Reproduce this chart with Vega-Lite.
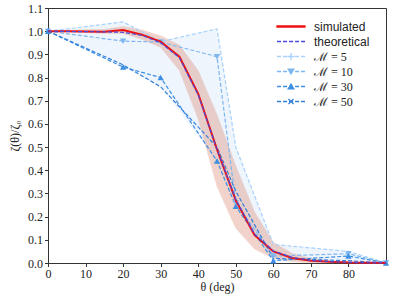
{
  "$schema": "https://vega.github.io/schema/vega-lite/v6.json",
  "width": 338,
  "height": 255,
  "autosize": {"type": "none"},
  "padding": {"left": 48, "top": 8, "right": 13, "bottom": 36},
  "background": "white",
  "resolve": {"scale": {"color": "independent", "shape": "independent"}},
  "config": {
    "view": {"stroke": "#333333", "strokeWidth": 1},
    "axis": {
      "labelFont": "Liberation Serif",
      "labelFontSize": 12,
      "labelColor": "#222222",
      "labelOverlap": false,
      "labelFlush": false,
      "titleFont": "Liberation Serif",
      "titleFontSize": 12,
      "titleFontWeight": "normal",
      "titleColor": "#222222",
      "domainColor": "#333333",
      "tickColor": "#333333",
      "tickSize": 3.5,
      "grid": false
    },
    "legend": {
      "title": null,
      "orient": "none",
      "legendX": 228,
      "legendY": 11,
      "symbolSize": 784,
      "symbolStrokeWidth": 1.3,
      "symbolOpacity": 1,
      "clipHeight": 15,
      "rowPadding": 0,
      "labelFontSize": 12,
      "labelColor": "#222222",
      "labelOffset": 8,
      "symbolOffset": 0
    }
  },
  "datasets": {
    "sim": [
      {"theta": 0, "sim": 1.0, "theo": 1.0, "lo": 1.0, "hi": 1.0},
      {"theta": 5, "sim": 1.0, "theo": 0.999, "lo": 0.996, "hi": 1.004},
      {"theta": 10, "sim": 0.999, "theo": 0.998, "lo": 0.993, "hi": 1.006},
      {"theta": 15, "sim": 0.998, "theo": 0.997, "lo": 0.99, "hi": 1.008},
      {"theta": 20, "sim": 1.005, "theo": 0.995, "lo": 0.99, "hi": 1.02},
      {"theta": 25, "sim": 0.985, "theo": 0.982, "lo": 0.965, "hi": 1.005},
      {"theta": 30, "sim": 0.955, "theo": 0.95, "lo": 0.93, "hi": 0.98},
      {"theta": 35, "sim": 0.89, "theo": 0.885, "lo": 0.83, "hi": 0.94},
      {"theta": 40, "sim": 0.73, "theo": 0.725, "lo": 0.62, "hi": 0.83},
      {"theta": 45, "sim": 0.49, "theo": 0.49, "lo": 0.33, "hi": 0.64},
      {"theta": 50, "sim": 0.27, "theo": 0.275, "lo": 0.15, "hi": 0.42},
      {"theta": 55, "sim": 0.12, "theo": 0.125, "lo": 0.06, "hi": 0.22},
      {"theta": 60, "sim": 0.05, "theo": 0.052, "lo": 0.02, "hi": 0.09},
      {"theta": 65, "sim": 0.022, "theo": 0.024, "lo": 0.006, "hi": 0.042},
      {"theta": 70, "sim": 0.01, "theo": 0.011, "lo": 0.0, "hi": 0.02},
      {"theta": 75, "sim": 0.005, "theo": 0.006, "lo": 0.0, "hi": 0.01},
      {"theta": 80, "sim": 0.002, "theo": 0.003, "lo": 0.0, "hi": 0.005},
      {"theta": 85, "sim": 0.001, "theo": 0.001, "lo": 0.0, "hi": 0.002},
      {"theta": 90, "sim": 0.0, "theo": 0.0, "lo": 0.0, "hi": 0.0}
    ],
    "env": [
      {"theta": 0, "lo": 1.0, "hi": 1.0},
      {"theta": 20, "lo": 0.845, "hi": 1.04},
      {"theta": 30, "lo": 0.76, "hi": 0.955},
      {"theta": 45, "lo": 0.44, "hi": 1.01},
      {"theta": 50, "lo": 0.245, "hi": 0.5},
      {"theta": 60, "lo": 0.01, "hi": 0.08},
      {"theta": 80, "lo": 0.01, "hi": 0.05},
      {"theta": 90, "lo": 0.0, "hi": 0.0}
    ],
    "m": [
      {"theta": 0, "v": 1.0, "series": "ℳ = 5"},
      {"theta": 20, "v": 1.04, "series": "ℳ = 5"},
      {"theta": 30, "v": 0.955, "series": "ℳ = 5"},
      {"theta": 45, "v": 1.01, "series": "ℳ = 5"},
      {"theta": 50, "v": 0.5, "series": "ℳ = 5"},
      {"theta": 60, "v": 0.08, "series": "ℳ = 5"},
      {"theta": 80, "v": 0.05, "series": "ℳ = 5"},
      {"theta": 90, "v": 0.0, "series": "ℳ = 5"},
      {"theta": 0, "v": 1.0, "series": "ℳ = 10"},
      {"theta": 20, "v": 0.957, "series": "ℳ = 10"},
      {"theta": 30, "v": 0.953, "series": "ℳ = 10"},
      {"theta": 45, "v": 0.89, "series": "ℳ = 10"},
      {"theta": 50, "v": 0.26, "series": "ℳ = 10"},
      {"theta": 60, "v": 0.03, "series": "ℳ = 10"},
      {"theta": 80, "v": 0.04, "series": "ℳ = 10"},
      {"theta": 90, "v": 0.0, "series": "ℳ = 10"},
      {"theta": 0, "v": 1.0, "series": "ℳ = 30"},
      {"theta": 20, "v": 0.845, "series": "ℳ = 30"},
      {"theta": 30, "v": 0.8, "series": "ℳ = 30"},
      {"theta": 45, "v": 0.44, "series": "ℳ = 30"},
      {"theta": 50, "v": 0.245, "series": "ℳ = 30"},
      {"theta": 60, "v": 0.01, "series": "ℳ = 30"},
      {"theta": 80, "v": 0.03, "series": "ℳ = 30"},
      {"theta": 90, "v": 0.0, "series": "ℳ = 30"},
      {"theta": 0, "v": 1.0, "series": "ℳ = 50"},
      {"theta": 20, "v": 0.855, "series": "ℳ = 50"},
      {"theta": 30, "v": 0.76, "series": "ℳ = 50"},
      {"theta": 45, "v": 0.5, "series": "ℳ = 50"},
      {"theta": 50, "v": 0.31, "series": "ℳ = 50"},
      {"theta": 60, "v": 0.02, "series": "ℳ = 50"},
      {"theta": 80, "v": 0.01, "series": "ℳ = 50"},
      {"theta": 90, "v": 0.0, "series": "ℳ = 50"}
    ]
  },
  "layer": [
    {
      "data": {"name": "env"},
      "mark": {"type": "area", "color": "#dbe8fb", "opacity": 0.45},
      "encoding": {
        "x": {"field": "theta", "type": "quantitative", "scale": {"domain": [0, 90], "nice": false}, "axis": {"values": [0, 10, 20, 30, 40, 50, 60, 70, 80], "title": "θ (deg)", "titlePadding": 2, "labelPadding": 2}},
        "y": {"field": "lo", "type": "quantitative", "scale": {"domain": [0, 1.1], "nice": false}, "axis": {"values": [0, 0.1, 0.2, 0.3, 0.4, 0.5, 0.6, 0.7, 0.8, 0.9, 1.0, 1.1], "format": ".1f", "title": "ζ(θ)/ζ₀", "titlePadding": 6, "labelPadding": 2}},
        "y2": {"field": "hi"}
      }
    },
    {
      "data": {"name": "sim"},
      "mark": {"type": "area", "color": "#d9846c", "opacity": 0.35, "stroke": "#d9846c", "strokeOpacity": 0.5, "strokeWidth": 1},
      "encoding": {
        "x": {"field": "theta", "type": "quantitative", "axis": {"values": [0, 10, 20, 30, 40, 50, 60, 70, 80], "title": "θ (deg)", "titlePadding": 2, "labelPadding": 2}},
        "y": {"field": "lo", "type": "quantitative", "axis": {"values": [0, 0.1, 0.2, 0.3, 0.4, 0.5, 0.6, 0.7, 0.8, 0.9, 1.0, 1.1], "format": ".1f", "title": "ζ(θ)/ζ₀", "titlePadding": 6, "labelPadding": 2}},
        "y2": {"field": "hi"}
      }
    },
    {
      "data": {"name": "m"},
      "mark": {"type": "line", "strokeWidth": 1.2, "strokeDash": [4, 2]},
      "encoding": {
        "x": {"field": "theta", "type": "quantitative", "axis": {"values": [0, 10, 20, 30, 40, 50, 60, 70, 80], "title": "θ (deg)", "titlePadding": 2, "labelPadding": 2}},
        "y": {"field": "v", "type": "quantitative", "axis": {"values": [0, 0.1, 0.2, 0.3, 0.4, 0.5, 0.6, 0.7, 0.8, 0.9, 1.0, 1.1], "format": ".1f", "title": "ζ(θ)/ζ₀", "titlePadding": 6, "labelPadding": 2}},
        "color": {"field": "series", "type": "nominal", "scale": {"domain": ["ℳ = 5", "ℳ = 10", "ℳ = 30", "ℳ = 50"], "range": ["#a8d1fb", "#7db6f0", "#3d8fe3", "#3580d8"]}, "legend": null}
      }
    },
    {
      "data": {"name": "m"},
      "mark": {"type": "point", "filled": true, "size": 40, "opacity": 1, "strokeWidth": 1.2},
      "encoding": {
        "x": {"field": "theta", "type": "quantitative", "axis": {"values": [0, 10, 20, 30, 40, 50, 60, 70, 80], "title": "θ (deg)", "titlePadding": 2, "labelPadding": 2}},
        "y": {"field": "v", "type": "quantitative", "axis": {"values": [0, 0.1, 0.2, 0.3, 0.4, 0.5, 0.6, 0.7, 0.8, 0.9, 1.0, 1.1], "format": ".1f", "title": "ζ(θ)/ζ₀", "titlePadding": 6, "labelPadding": 2}},
        "color": {"field": "series", "type": "nominal", "scale": {"domain": ["ℳ = 5", "ℳ = 10", "ℳ = 30", "ℳ = 50"], "range": ["#a8d1fb", "#7db6f0", "#3d8fe3", "#3580d8"]}, "legend": null},
        "shape": {"field": "series", "type": "nominal", "scale": {"domain": ["ℳ = 5", "ℳ = 10", "ℳ = 30", "ℳ = 50"], "range": ["M-1,0H1M0,-1V1", "triangle-down", "triangle-up", "M-0.8,-0.8L0.8,0.8M-0.8,0.8L0.8,-0.8"]}, "legend": null}
      }
    },
    {
      "data": {"name": "sim"},
      "mark": {"type": "line", "color": "#ee1111", "strokeWidth": 2},
      "encoding": {
        "x": {"field": "theta", "type": "quantitative", "axis": {"values": [0, 10, 20, 30, 40, 50, 60, 70, 80], "title": "θ (deg)", "titlePadding": 2, "labelPadding": 2}},
        "y": {"field": "sim", "type": "quantitative", "axis": {"values": [0, 0.1, 0.2, 0.3, 0.4, 0.5, 0.6, 0.7, 0.8, 0.9, 1.0, 1.1], "format": ".1f", "title": "ζ(θ)/ζ₀", "titlePadding": 6, "labelPadding": 2}}
      }
    },
    {
      "data": {"name": "sim"},
      "mark": {"type": "line", "color": "#4b4bdc", "strokeWidth": 1.2, "strokeDash": [4, 2]},
      "encoding": {
        "x": {"field": "theta", "type": "quantitative", "axis": {"values": [0, 10, 20, 30, 40, 50, 60, 70, 80], "title": "θ (deg)", "titlePadding": 2, "labelPadding": 2}},
        "y": {"field": "theo", "type": "quantitative", "axis": {"values": [0, 0.1, 0.2, 0.3, 0.4, 0.5, 0.6, 0.7, 0.8, 0.9, 1.0, 1.1], "format": ".1f", "title": "ζ(θ)/ζ₀", "titlePadding": 6, "labelPadding": 2}}
      }
    },
    {
      "data": {"name": "m"},
      "transform": [{"filter": "false"}],
      "mark": {"type": "point", "filled": false, "opacity": 1, "strokeWidth": 1.3},
      "encoding": {
        "x": {"field": "theta", "type": "quantitative", "axis": {"values": [0, 10, 20, 30, 40, 50, 60, 70, 80], "title": "θ (deg)", "titlePadding": 2, "labelPadding": 2}},
        "y": {"field": "v", "type": "quantitative", "axis": {"values": [0, 0.1, 0.2, 0.3, 0.4, 0.5, 0.6, 0.7, 0.8, 0.9, 1.0, 1.1], "format": ".1f", "title": "ζ(θ)/ζ₀", "titlePadding": 6, "labelPadding": 2}},
        "color": {
          "field": "series", "type": "nominal",
          "scale": {"domain": ["simulated", "theoretical", "ℳ = 5", "ℳ = 10", "ℳ = 30", "ℳ = 50"], "range": ["#ee1111", "#4b4bdc", "#a8d1fb", "#7db6f0", "#3d8fe3", "#3580d8"]},
          "legend": {"labelFont": {"expr": "indexof(datum.label, '=') > 0 ? 'Liberation Serif' : 'Liberation Sans'"}}
        },
        "shape": {
          "field": "series", "type": "nominal",
          "scale": {
            "domain": ["simulated", "theoretical", "ℳ = 5", "ℳ = 10", "ℳ = 30", "ℳ = 50"],
            "range": [
              "M-1,-0.04H1V0.04H-1Z",
              "M-1,0H-0.71M-0.57,0H-0.28M-0.14,0H0.15M0.29,0H0.58M0.72,0H1",
              "M-1,0H-0.71M-0.57,0H-0.28M-0.14,0H0.15M0.29,0H0.58M0.72,0H1M-0.25,0H0.25M0,-0.25V0.25",
              "M-1,0H-0.71M-0.57,0H-0.28M-0.14,0H0.15M0.29,0H0.58M0.72,0H1M-0.2,-0.16L0.2,-0.16L0,0.18ZM-0.1,-0.1L0.1,-0.1L0,0.08Z",
              "M-1,0H-0.71M-0.57,0H-0.28M-0.14,0H0.15M0.29,0H0.58M0.72,0H1M-0.2,0.16L0.2,0.16L0,-0.18ZM-0.1,0.1L0.1,0.1L0,-0.08Z",
              "M-1,0H-0.71M-0.57,0H-0.28M-0.14,0H0.15M0.29,0H0.58M0.72,0H1M-0.18,-0.18L0.18,0.18M-0.18,0.18L0.18,-0.18"
            ]
          },
          "legend": {"labelFont": {"expr": "indexof(datum.label, '=') > 0 ? 'Liberation Serif' : 'Liberation Sans'"}}
        }
      }
    }
  ]
}
